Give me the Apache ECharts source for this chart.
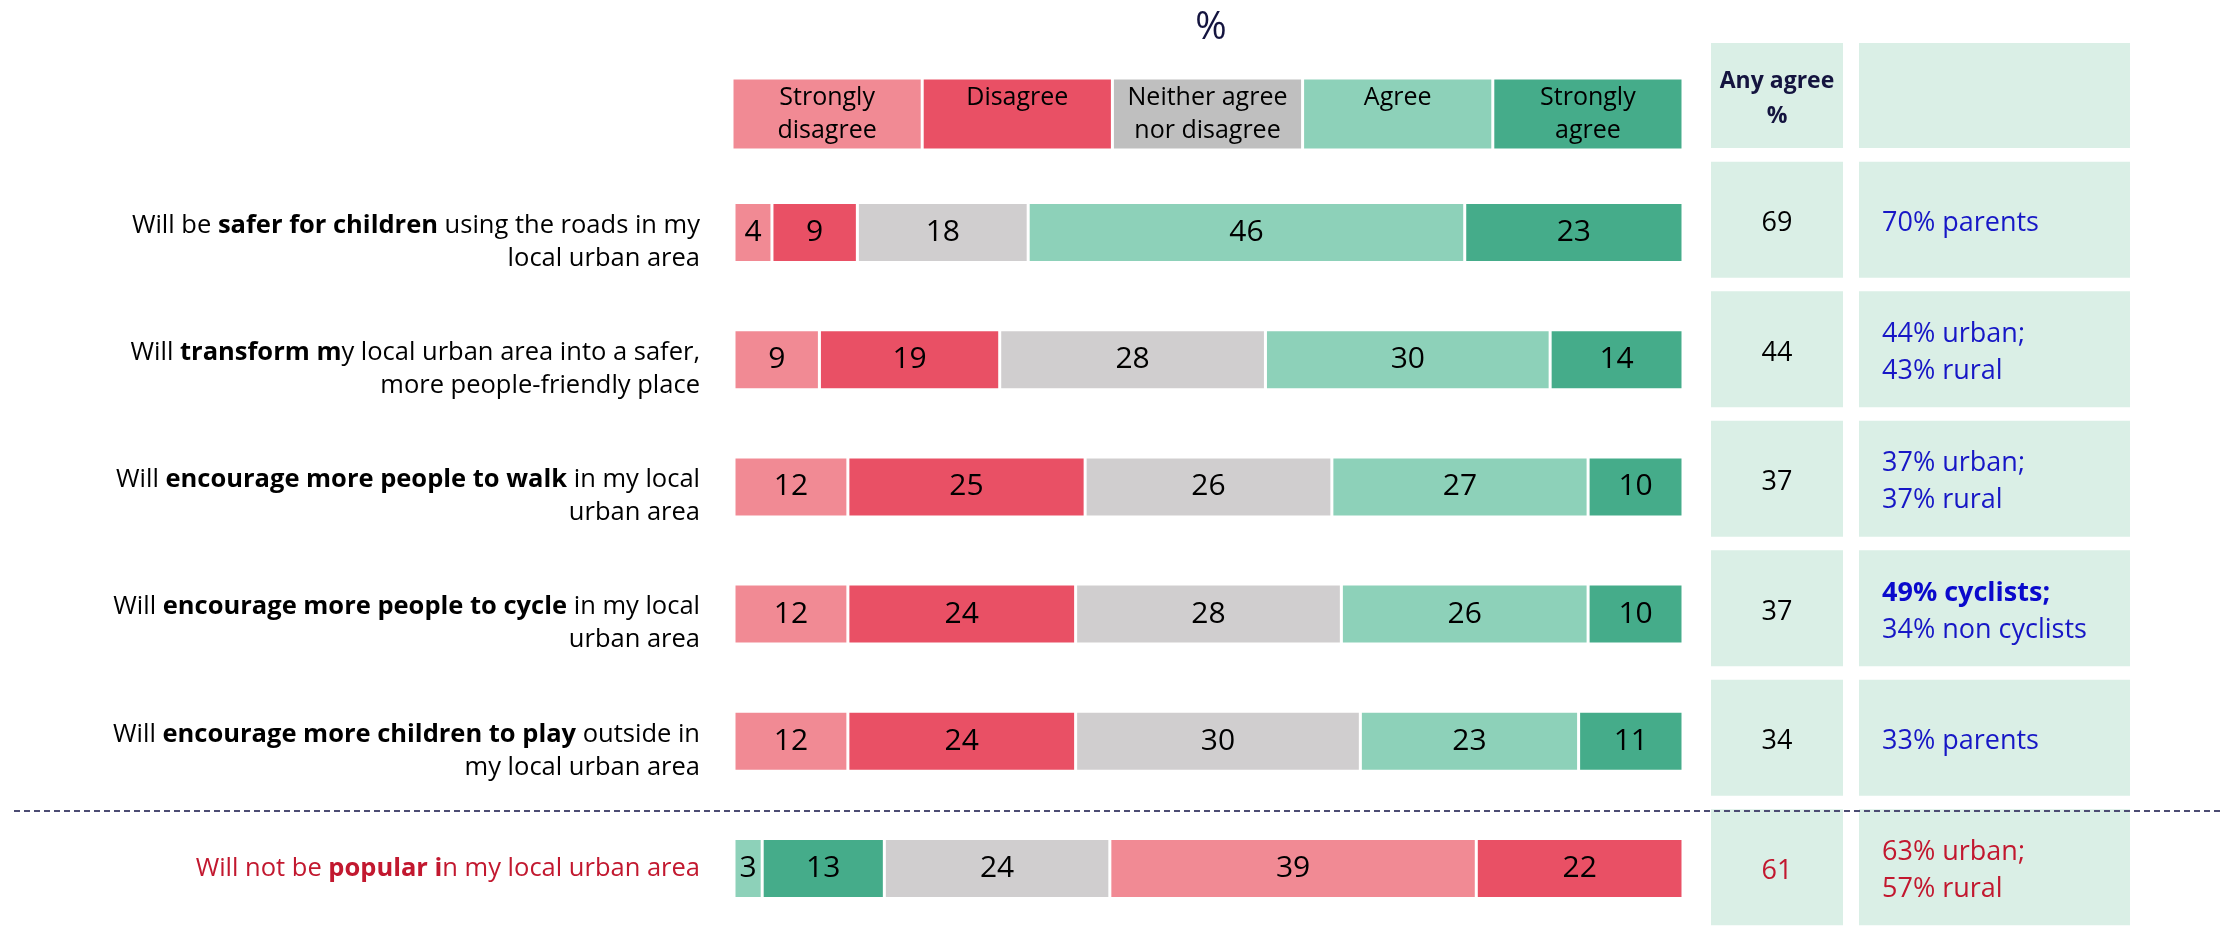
<!DOCTYPE html>
<html>
<head>
<meta charset="utf-8">
<script src="https://cdn.jsdelivr.net/npm/echarts@6/dist/echarts.min.js"></script>
<style>html,body{margin:0;padding:0;background:#fff;}#c{width:2224px;height:932px;}</style>
</head>
<body>
<div id="c"></div>
<script>
// ---- data ----
const categories = [
  "Will be {b|safer for children} using the roads in my\nlocal urban area",
  "Will {b|transform m}y local urban area into a safer,\nmore people-friendly place",
  "Will {b|encourage more people to walk} in my local\nurban area",
  "Will {b|encourage more people to cycle} in my local\nurban area",
  "Will {b|encourage more children to play} outside in\nmy local urban area",
  "{r|Will not be }{rb|popular i}{r|n my local urban area}"
];
const responseLabels = ["Strongly\ndisagree", "Disagree", "Neither agree\nnor disagree", "Agree", "Strongly\nagree"];
const stronglyDisagree = [4, 9, 12, 12, 12];
const disagree = [9, 19, 25, 24, 24];
const neither = [18, 28, 26, 28, 30];
const agree = [46, 30, 27, 26, 23];
const stronglyAgree = [23, 14, 10, 10, 11];
// "Will not be popular" row, in drawn order (left to right)
const notPopular = [3, 13, 24, 39, 22];
const anyAgreeHeader = "Any agree\n%";
const anyAgree = [69, 44, 37, 37, 34, 61];
const notes = [
  "70% parents",
  "44% urban;\n43% rural",
  "37% urban;\n37% rural",
  "{b|49% cyclists;}\n34% non cyclists",
  "33% parents",
  "63% urban;\n57% rural"
];

// ---- style ----
const FONT = "'Open Sans', 'Liberation Sans', sans-serif";
const C_SD = '#F18A94', C_D = '#E95065', C_N = '#D0CECF', C_NH = '#BFBFBF', C_A = '#8DD1B9', C_SA = '#45AC8A';
const BOX = '#DAEFE6', BLUE = '#1717C6', RED = '#C2182F', NAVY = '#14143F';
const LFS = 25.5, LLH = 33;

const chart = echarts.init(document.getElementById('c'), null, {renderer: 'canvas'});

const mainCols = [C_SD, C_D, C_N, C_A, C_SA];
const mainData = [stronglyDisagree, disagree, neither, agree, stronglyAgree];
const popCols = [C_A, C_SA, C_N, C_SD, C_D];
const headCols = [C_SD, C_D, C_NH, C_A, C_SA];

const series = [];
const barLabel = {show: true, position: 'inside', color: '#000', fontSize: 30, fontFamily: FONT};
mainData.forEach((arr, i) => {
  series.push({
    type: 'bar', xAxisIndex: 0, yAxisIndex: 0, stack: 'main', barWidth: 60, barGap: '-100%',
    data: arr.concat(['-']),
    itemStyle: {color: mainCols[i], borderColor: '#fff', borderWidth: 1.5},
    label: barLabel, silent: true
  });
});
notPopular.forEach((v, i) => {
  const d = categories.map(() => '-');
  d[5] = v;
  series.push({
    type: 'bar', xAxisIndex: 1, yAxisIndex: 0, stack: 'pop', barWidth: 60, barGap: '-100%',
    data: d,
    itemStyle: {color: popCols[i], borderColor: '#fff', borderWidth: 1.5},
    label: barLabel, silent: true
  });
});
// header legend boxes
responseLabels.forEach((t, i) => {
  series.push({
    type: 'bar', xAxisIndex: 2, yAxisIndex: 1, stack: 'hdr', barWidth: '100%',
    data: [{value: 20, name: t}],
    itemStyle: {color: headCols[i], borderColor: '#fff', borderWidth: 1.5},
    label: {show: true, position: 'insideTop', distance: 3, formatter: t, color: '#000',
      fontSize: 25, lineHeight: 33, fontFamily: FONT, align: 'center'},
    silent: true
  });
});
// table header cells
series.push({
  type: 'bar', xAxisIndex: 3, yAxisIndex: 2, barWidth: '100%',
  data: [1], itemStyle: {color: BOX},
  label: {show: true, position: 'inside', formatter: anyAgreeHeader, color: NAVY, fontWeight: 'bold',
    fontSize: 23, lineHeight: 35, fontFamily: FONT, offset: [0, 3]},
  silent: true
});
series.push({
  type: 'bar', xAxisIndex: 4, yAxisIndex: 3, barWidth: '100%',
  data: [1], itemStyle: {color: BOX}, silent: true
});
// any agree column
series.push({
  type: 'bar', xAxisIndex: 5, yAxisIndex: 4, barWidth: 116,
  data: anyAgree.map((v, i) => ({value: 1, name: String(v),
    label: {color: i === 5 ? RED : '#000'}})),
  itemStyle: {color: BOX},
  label: {show: true, position: 'inside', formatter: p => p.name, fontSize: 27, fontFamily: FONT,
    offset: [0, 4]},
  silent: true
});
// notes column
series.push({
  type: 'bar', xAxisIndex: 6, yAxisIndex: 5, barWidth: 116,
  data: notes.map((t, i) => ({value: 1, name: t,
    label: {color: i === 5 ? RED : BLUE}})),
  itemStyle: {color: BOX},
  label: {show: true, position: 'insideLeft', distance: 23, formatter: p => p.name,
    fontSize: 27, lineHeight: 37, fontFamily: FONT, padding: [7, 0, 0, 0],
    rich: {b: {fontWeight: 'bold', color: '#0A0ACC', fontSize: 27, lineHeight: 37, fontFamily: FONT}}},
  silent: true
});

const hiddenVal = (grid, max) => ({type: 'value', gridIndex: grid, min: 0, max: max, show: false});
const hiddenCat = (grid, data) => ({type: 'category', gridIndex: grid, data: data, inverse: true, show: false});

// category labels: two-line labels sit slightly lower than the bar centre
const catItems = categories.map(c => c.indexOf('\n') >= 0
  ? {value: c, textStyle: {padding: [19, 0, 0, 0]}}
  : {value: c, textStyle: {padding: [0, 0, 0, 0]}});

const option = {
  backgroundColor: '#fff',
  animation: false,
  textStyle: {fontFamily: FONT},
  title: {text: '%', left: 1206, top: 4, textAlign: 'center',
    textStyle: {fontSize: 38, fontWeight: 'normal', color: NAVY, fontFamily: FONT}},
  grid: [
    {left: 734, width: 949, top: 169, height: 769},   // main bars
    {left: 732, width: 951, top: 78, height: 72},     // response header
    {left: 1711, width: 132, top: 43, height: 105},   // any agree header
    {left: 1859, width: 271, top: 43, height: 105},   // notes header
    {left: 1711, width: 132, top: 155, height: 786},  // any agree column
    {left: 1859, width: 271, top: 155, height: 786}   // notes column
  ],
  xAxis: [
    hiddenVal(0, 100),
    hiddenVal(0, 101),
    hiddenVal(1, 100),
    hiddenVal(2, 1),
    hiddenVal(3, 1),
    hiddenVal(4, 1),
    hiddenVal(5, 1)
  ],
  yAxis: [
    {type: 'category', gridIndex: 0, data: catItems, inverse: true,
      axisLine: {show: false}, axisTick: {show: false}, splitLine: {show: false},
      axisLabel: {show: true, margin: 34, align: 'right', color: '#000', fontSize: LFS, lineHeight: LLH,
        fontFamily: FONT,
        rich: {
          b: {fontWeight: 'bold', color: '#000', fontSize: LFS, lineHeight: LLH, fontFamily: FONT},
          r: {color: RED, fontSize: LFS, lineHeight: LLH, fontFamily: FONT},
          rb: {color: RED, fontWeight: 'bold', fontSize: LFS, lineHeight: LLH, fontFamily: FONT}
        }}},
    hiddenCat(1, ['h']),
    hiddenCat(2, ['h']),
    hiddenCat(3, ['h']),
    hiddenCat(4, categories),
    hiddenCat(5, categories)
  ],
  graphic: [{
    type: 'line', z: 100, shape: {x1: 14, y1: 811, x2: 2224, y2: 811},
    style: {stroke: '#4B4B72', lineWidth: 2, lineDash: [6, 4]}, silent: true
  }],
  series: series
};
chart.setOption(option);
</script>
</body>
</html>
